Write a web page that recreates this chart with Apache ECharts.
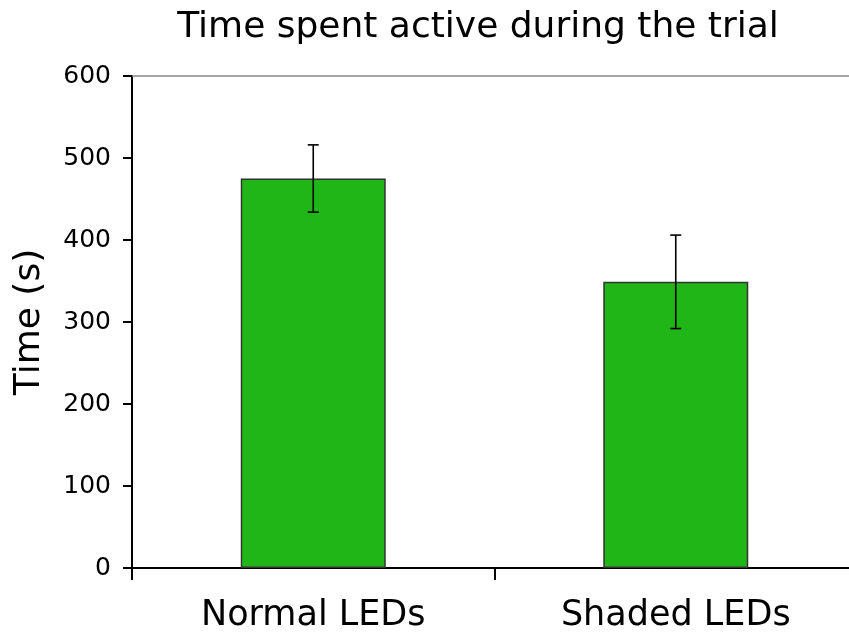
<!DOCTYPE html>
<html>
<head>
<meta charset="utf-8">
<script src="https://cdn.jsdelivr.net/npm/echarts@6/dist/echarts.min.js"></script>
<style>html,body{margin:0;padding:0;background:#fff;}#c{width:849px;height:642px;}</style>
</head>
<body>
<div id="c"></div>
<script>
const categories = ['Normal LEDs', 'Shaded LEDs'];
const meanValues = [475, 349];
const errorValues = [41, 57];
const yTicks = [0, 100, 200, 300, 400, 500, 600];

const FONT = 'DejaVu Sans';
const chart = echarts.init(document.getElementById('c'), null, {renderer: 'canvas'});
const errData = categories.map((c, i) => [i, meanValues[i] - errorValues[i], meanValues[i] + errorValues[i]]);

chart.setOption({
  animation: false,
  backgroundColor: '#ffffff',
  title: {
    text: 'Time spent active during the trial',
    left: 473, top: 5, textAlign: 'center',
    textStyle: {fontFamily: FONT, fontSize: 36, fontWeight: 'normal', color: '#000'}
  },
  grid: {left: 132, top: 76, width: 725, height: 492, containLabel: false, outerBoundsMode: 'none'},
  xAxis: [{
    type: 'category', data: categories, position: 'bottom',
    axisLine: {lineStyle: {color: '#000', width: 2}},
    axisTick: {show: true, length: 12, inside: false, alignWithLabel: false, lineStyle: {color: '#000', width: 2}},
    axisLabel: {margin: 30, fontFamily: FONT, fontSize: 35, color: '#000', interval: 0},
    splitLine: {show: false}
  }, {
    type: 'category', data: categories, position: 'top',
    axisLine: {lineStyle: {color: '#888', width: 1.5}},
    axisTick: {show: false}, axisLabel: {show: false}, splitLine: {show: false}
  }],
  yAxis: {
    type: 'value', min: yTicks[0], max: yTicks[yTicks.length - 1], interval: 100,
    name: 'Time (s)', nameLocation: 'middle', nameGap: 84, nameRotate: 90,
    nameTextStyle: {fontFamily: FONT, fontSize: 36, color: '#000'},
    axisLine: {show: true, lineStyle: {color: '#000', width: 2}},
    axisTick: {show: true, length: 9, inside: false, lineStyle: {color: '#000', width: 2}},
    axisLabel: {margin: 21, fontFamily: FONT, fontSize: 25, color: '#000'},
    splitLine: {show: false}
  },
  series: [{
    type: 'bar', data: meanValues, barWidth: '40%',
    itemStyle: {color: '#20b618', borderColor: '#333', borderWidth: 1.5}
  }, {
    type: 'custom', data: errData, z: 10,
    renderItem: function (params, api) {
      const x = api.value(0);
      const lo = api.coord([x, api.value(1)]);
      const hi = api.coord([x, api.value(2)]);
      const hw = 5.5;
      const st = {stroke: '#000', lineWidth: 1.6};
      return {type: 'group', children: [
        {type: 'line', shape: {x1: hi[0], y1: hi[1], x2: lo[0], y2: lo[1]}, style: st},
        {type: 'line', shape: {x1: hi[0] - hw, y1: hi[1], x2: hi[0] + hw, y2: hi[1]}, style: st},
        {type: 'line', shape: {x1: lo[0] - hw, y1: lo[1], x2: lo[0] + hw, y2: lo[1]}, style: st}
      ]};
    }
  }]
});
</script>
</body>
</html>
